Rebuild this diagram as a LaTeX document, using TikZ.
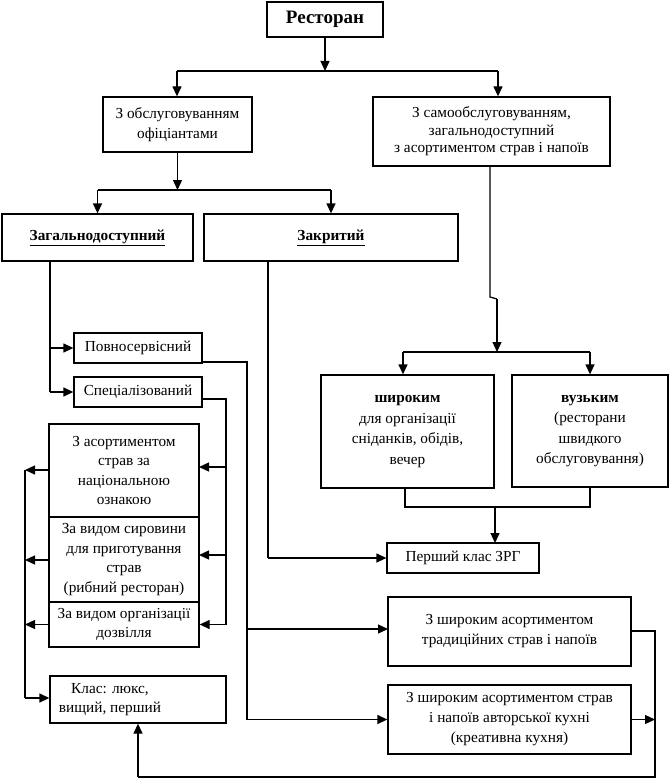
\documentclass[tikz,border=0pt]{standalone}
\usepackage{fontspec}
\setmainfont{Liberation Serif}
\usetikzlibrary{arrows.meta}
\begin{document}
\begin{tikzpicture}[x=1pt,y=-1pt,
  every path/.style={line width=1.3pt},
  box/.style={draw, line width=1.3pt, align=center, inner sep=0pt,
    font=\fontsize{15.3}{18}\selectfont},
  arr/.style={-{Triangle[length=10pt,width=9pt]}},
  txt/.style={align=center, inner sep=0pt, font=\fontsize{15.3}{18}\selectfont}]
\useasboundingbox (0,0) rectangle (670,781);

% boxes
\node[box, minimum width=116pt, minimum height=35pt, font=\fontsize{19}{20}\selectfont\bfseries] (rest) at (325,19.5) {Ресторан};
\node[box, minimum width=149pt, minimum height=55pt, font=\fontsize{15.3}{20}\selectfont] (waiter) at (177.5,124.5) {З обслуговуванням\\офіціантами};
\node[box, minimum width=237pt, minimum height=69pt, font=\fontsize{15.3}{17.5}\selectfont] (self) at (491.5,131.5) {З самообслуговуванням,\\загальнодоступний\\з асортиментом страв і напоїв};
\node[box, minimum width=191pt, minimum height=47pt] (gen) at (97.5,237.5) {\underline{\textbf{Загальнодоступний}}};
\node[box, minimum width=254pt, minimum height=47pt] (closed) at (331,237.5) {\underline{\textbf{Закритий}}};
\node[box, minimum width=128pt, minimum height=30pt] (full) at (138,348) {Повносервісний};
\node[box, minimum width=128pt, minimum height=30pt] (spec) at (138,392) {Спеціалізований};
\node[box, minimum width=150pt, minimum height=93pt, font=\fontsize{15.3}{19.5}\selectfont] (nat) at (124,470.5) {З асортиментом\\страв за\\національною\\ознакою};
\node[box, minimum width=150pt, minimum height=85pt, font=\fontsize{15.3}{19.5}\selectfont] (raw) at (124,559.5) {За видом сировини\\для приготування\\страв\\(рибний ресторан)};
\node[box, minimum width=150pt, minimum height=45pt, font=\fontsize{15.3}{19.5}\selectfont] (leis) at (124,624.5) {За видом організації\\дозвілля};
\node[box, minimum width=176pt, minimum height=47pt] (klas) at (138,699.5) {};
\node[txt, font=\fontsize{15.3}{19.5}\selectfont] (klastext) at (110,699.5) {Клас: люкс,\\вищий, перший};
\node[box, minimum width=173pt, minimum height=113pt, font=\fontsize{15.3}{20.5}\selectfont] (wide) at (407.5,431.5) {\textbf{широким}\\для організації\\сніданків, обідів,\\вечер};
\node[box, minimum width=156pt, minimum height=112pt, font=\fontsize{15.3}{20.5}\selectfont] (narrow) at (590,431) {\textbf{вузьким}\\(ресторани\\швидкого\\обслуговування)};
\node[box, minimum width=152pt, minimum height=30pt] (first) at (463,558) {Перший клас ЗРГ};
\node[box, minimum width=243pt, minimum height=69pt, font=\fontsize{15.3}{20}\selectfont] (trad) at (509.5,631.5) {З широким асортиментом\\традиційних страв і напоїв};
\node[box, minimum width=243pt, minimum height=69pt, font=\fontsize{15.3}{20}\selectfont] (auth) at (509.5,719.5) {З широким асортиментом страв\\і напоїв авторської кухні\\(креативна кухня)};

% coordinates
\coordinate (b1) at (325,71);
\coordinate (b1l) at (177,71);
\coordinate (b1r) at (498,71);
\coordinate (b2) at (177.5,190);
\coordinate (b2l) at (97.5,190);
\coordinate (b2r) at (331,190);
\coordinate (g0) at (50,261);
\coordinate (gf) at (50,348);
\coordinate (gs) at (50,392);
\coordinate (fo) at (202,362);
\coordinate (f1) at (247,362);
\coordinate (ft) at (247,629);
\coordinate (fa) at (247,719.5);
\coordinate (trt) at (388,629);
\coordinate (so) at (202,399);
\coordinate (s1) at (226,399);
\coordinate (sn) at (226,467);
\coordinate (sr) at (226,555);
\coordinate (sl) at (226,624.5);
\coordinate (ne) at (199,467);
\coordinate (re) at (199,555);
\coordinate (ln) at (25,470);
\coordinate (lr) at (25,560);
\coordinate (ll) at (25,624.5);
\coordinate (lk) at (25,698);
\coordinate (nw1) at (49,470);
\coordinate (rw1) at (49,560);
\coordinate (c0) at (268,261);
\coordinate (c1) at (268,558);
\coordinate (s0) at (490,166);
\coordinate (s2) at (490,297);
\coordinate (s3) at (497,299);
\coordinate (b3) at (497,352);
\coordinate (b3l) at (403,352);
\coordinate (b3r) at (590,352);
\coordinate (w0) at (405,488);
\coordinate (w1) at (405,507);
\coordinate (n1) at (590,507);
\coordinate (b4) at (495,507);
\coordinate (fn) at (495,543);
\coordinate (to) at (631,631);
\coordinate (t1) at (655,631);
\coordinate (t2) at (655,777);
\coordinate (t3) at (138,777);
\coordinate (ao) at (631,719.5);
\coordinate (a1) at (655,719.5);

% connectors
\draw[arr] (rest.south) -- (b1);
\draw (b1l) -- (b1r);
\draw[arr] (b1l) -- (b1l |- waiter.north);
\draw[arr] (b1r) -- (b1r |- self.north);

\draw[arr] (waiter.south) -- (b2);
\draw (b2l) -- (b2r);
\draw[arr] (b2l) -- (gen.north);
\draw[arr] (b2r) -- (closed.north);

\draw (g0) -- (gs);
\draw[arr] (gf) -- (full.west);
\draw[arr] (gs) -- (spec.west);

\draw (fo) -- (f1) -- (fa);
\draw[arr] (ft) -- (trt);
\draw[arr] (fa) -- (auth.west);

\draw (so) -- (s1) -- (sl);
\draw[arr] (sn) -- (ne);
\draw[arr] (sr) -- (re);
\draw[arr] (sl) -- (leis.east);

\draw[arr] (nw1) -- (ln);
\draw[arr] (rw1) -- (lr);
\draw[arr] (leis.west) -- (ll);
\draw (ln) -- (lk);
\draw[arr] (lk) -- (klas.west |- lk);

\draw (c0) -- (c1);
\draw[arr] (c1) -- (first.west);

\draw (s0) -- (s2) -- (s3);
\draw[arr] (s3) -- (b3);
\draw (b3l) -- (b3r);
\draw[arr] (b3l) -- (b3l |- wide.north);
\draw[arr] (b3r) -- (narrow.north);

\draw (w0) -- (w1) -- (n1) -- (narrow.south);
\draw[arr] (b4) -- (fn);

\draw (to) -- (t1) -- (t2) -- (t3);
\draw[arr] (t3) -- (klas.south);
\draw[arr] (ao) -- (a1);
\end{tikzpicture}
\end{document}
